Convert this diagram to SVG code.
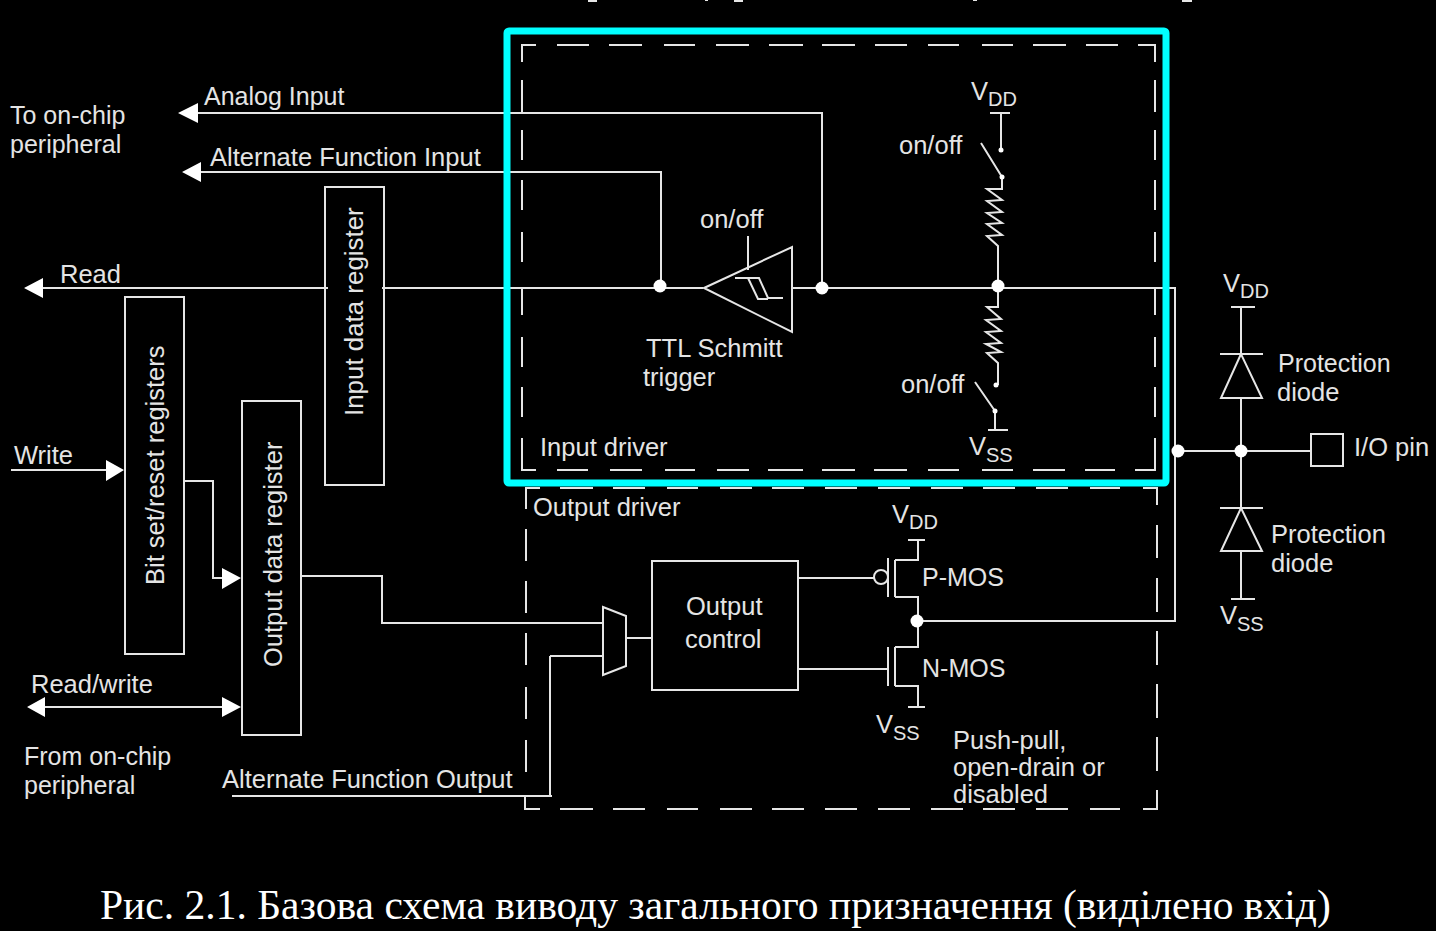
<svg xmlns="http://www.w3.org/2000/svg" width="1436" height="931" viewBox="0 0 1436 931">
<style>
.l{fill:none;stroke:#e6e6e6;stroke-width:2}
.d{fill:none;stroke:#e6e6e6;stroke-width:2}
.t{font-family:"Liberation Sans",Arial,sans-serif;font-size:25.5px;fill:#e4e4e4;stroke:none}
.n{font-size:25px}
.s{font-size:20px}
.j{fill:#fff}
.a{fill:#fff}
</style>
<rect width="1436" height="931" fill="#000"/>
<g id="title-fragments" class="l"><path d="M588 1h9M705 0h3M734 1h9M973 0h4M1182 1h10"/></g>
<g id="connectors">
<path class="l" d="M198 113H822V288M201 172H661V286M43 288H328M382 288H703M793 288H1175V621H917M1178 451H1311"/>
<path class="l" d="M11 470H107M184 481H213V578H223M301 576H382V623H603M550 656H603M550 656V797M232 796H552M626 638H652M798 578H874M798 669H888M44 707H224"/>
<path class="a" d="M178 113L198 103V123ZM182 172L201 162V182ZM24 288L43 278V298ZM124 470L106 460V481ZM241 578L222 568V589ZM27 707L45 697V717ZM241 707L222 697V717Z"/>
</g>
<g id="input-driver-box">
<path class="d" d="M522 62V45H536M557 45H589M609 45H642M664 45H695M716 45H749M769 45H803M822 45H855M875 45H907M928 45H959M982 45H1013M1033 45H1066M1086 45H1118M1138 45H1155V62M1155 80V112M1155 130V160M1155 180V210M1155 232V262M1155 288V315M1155 337V367M1155 387V417M1155 438V470H1135M1115 470H1085M1065 470H1033M1013 470H982M959 470H928M907 470H874M855 470H822M803 470H768M749 470H717M695 470H665M642 470H610M588 470H557M536 470H522V438M522 417V387M522 367V337M522 315V288M522 262V232M522 210V180M522 160V130M522 112V80"/>
<text class="t" x="540" y="456">Input driver</text>
</g>
<g id="output-driver-box">
<path class="d" d="M526 509V488H540M560 488H593M613 488H645M667 488H698M720 488H752M772 488H804M825 488H857M878 488H910M931 488H963M983 488H1015M1036 488H1068M1090 488H1120M1143 488H1157V505M1157 525V558M1157 578V612M1157 631V665M1157 684V718M1157 737V771M1157 790V809H1143M1120 809H1090M1068 809H1036M1015 809H983M963 809H931M910 809H878M857 809H825M804 809H772M752 809H720M698 809H667M645 809H613M593 809H560M540 809H525V795M526 772V740M526 719V687M526 665V633M526 613V581M526 561V529"/>
<text class="t" x="533" y="516">Output driver</text>
</g>
<g id="input-data-register"><rect class="l" x="325" y="187" width="59" height="298"/><text class="t" font-size="26" style="font-size:25.9px" transform="translate(363 416) rotate(-90)">Input data register</text></g>
<g id="bit-set-reset-registers"><rect class="l" x="125" y="297" width="59" height="357"/><text class="t" transform="translate(164 585) rotate(-90)">Bit set/reset registers</text></g>
<g id="output-data-register"><rect class="l" x="242" y="401" width="59" height="334"/><text class="t" transform="translate(282 667) rotate(-90)">Output data register</text></g>
<g id="mux"><path class="l" d="M603 607L626 616V666L603 675Z"/></g>
<g id="output-control"><rect class="l" x="652" y="561" width="146" height="129"/><text class="t" x="686" y="615">Output</text><text class="t" x="685" y="648">control</text></g>
<g id="schmitt-trigger">
<path class="l" d="M704 288L792 247V332ZM748 236V270M735 278H759L768 298H783M748 278L758 299H768"/>
<text class="t" x="700" y="228">on/off</text>
<text class="t" x="646" y="357">TTL Schmitt</text>
<text class="t" x="643" y="386">trigger</text>
</g>
<g id="pull-up">
<path class="l" d="M990 113H1010M1001 113V150M981 143L1002 177V189H987L1002 200L987 201L1002 212L987 213L1002 223L987 224L1002 235L987 236L998 246V286"/>
<circle class="j" cx="1001" cy="150" r="2.5"/><circle class="j" cx="1002" cy="177" r="2.5"/>
<text class="t" x="899" y="154">on/off</text>
<text class="t" x="971" y="100">V<tspan class="s" dy="6">DD</tspan></text>
</g>
<g id="pull-down">
<path class="l" d="M998 286V307H987L1001 319L986 320L1001 331L986 332L1001 343L986 344L1001 352L987 353L998 363V385M975 382L995 411V430M988 430H1008"/>
<circle class="j" cx="996" cy="385" r="2.5"/><circle class="j" cx="995" cy="411" r="2.5"/>
<text class="t" x="901" y="393">on/off</text>
<text class="t" x="969" y="455">V<tspan class="s" dy="7">SS</tspan></text>
</g>
<g id="p-mos">
<circle class="l" cx="881" cy="577" r="7"/>
<path class="l" d="M888 558V597M895 560V597M895 560H918V540M908 540H925M895 597H918V621"/>
<text class="t n" x="922" y="586">P-MOS</text>
<text class="t" x="892" y="523">V<tspan class="s" dy="6">DD</tspan></text>
</g>
<g id="n-mos">
<path class="l" d="M888 647V686M895 647V686M895 647H918V621M895 686H918V707M908 707H925"/>
<text class="t n" x="922" y="677">N-MOS</text>
<text class="t" x="876" y="733">V<tspan class="s" dy="7">SS</tspan></text>
</g>
<g id="upper-diode">
<path class="l" d="M1231 307H1255M1241 307V354M1220 354H1263M1241 354L1221 398H1262ZM1241 398V451"/>
<text class="t" x="1223" y="292">V<tspan class="s" dy="6">DD</tspan></text>
<text class="t n" x="1278" y="372">Protection</text><text class="t" x="1277" y="401">diode</text>
</g>
<g id="lower-diode">
<path class="l" d="M1241 451V508M1220 508H1263M1241 508L1221 551H1262ZM1241 551V599M1231 599H1255"/>
<text class="t" x="1220" y="624">V<tspan class="s" dy="7">SS</tspan></text>
<text class="t" x="1271" y="543">Protection</text><text class="t" x="1271" y="572">diode</text>
</g>
<g id="io-pin"><rect class="l" x="1311" y="434" width="32" height="32"/><text class="t" x="1354" y="456">I/O pin</text></g>
<g id="junctions">
<circle class="j" cx="660" cy="286" r="6.5"/><circle class="j" cx="822" cy="288" r="6.5"/><circle class="j" cx="998" cy="286" r="6.5"/><circle class="j" cx="917" cy="621" r="6.5"/><circle class="j" cx="1178" cy="451" r="6.5"/><circle class="j" cx="1241" cy="451" r="6.5"/>
</g>
<g id="labels">
<text class="t n" x="204" y="105">Analog Input</text>
<text class="t n" x="10" y="124">To on-chip</text><text class="t n" x="10" y="153">peripheral</text>
<text class="t" x="210" y="166">Alternate Function Input</text>
<text class="t" x="60" y="283">Read</text>
<text class="t" x="14" y="464">Write</text>
<text class="t" x="31" y="693">Read/write</text>
<text class="t n" x="24" y="765">From on-chip</text><text class="t n" x="24" y="794">peripheral</text>
<text class="t" x="222" y="788">Alternate Function Output</text>
<text class="t" x="953" y="749">Push-pull,</text><text class="t" x="953" y="776">open-drain or</text><text class="t" x="953" y="803">disabled</text>
</g>
<g id="highlight"><rect x="507" y="31" width="659" height="452" rx="2" fill="none" stroke="#00ffff" stroke-width="7"/></g>
<g id="caption"><text x="100" y="919" font-family="'Liberation Serif','Times New Roman',serif" font-size="41.55" fill="#fff">Рис. 2.1. Базова схема виводу загального призначення (виділено вхід)</text></g>
</svg>
